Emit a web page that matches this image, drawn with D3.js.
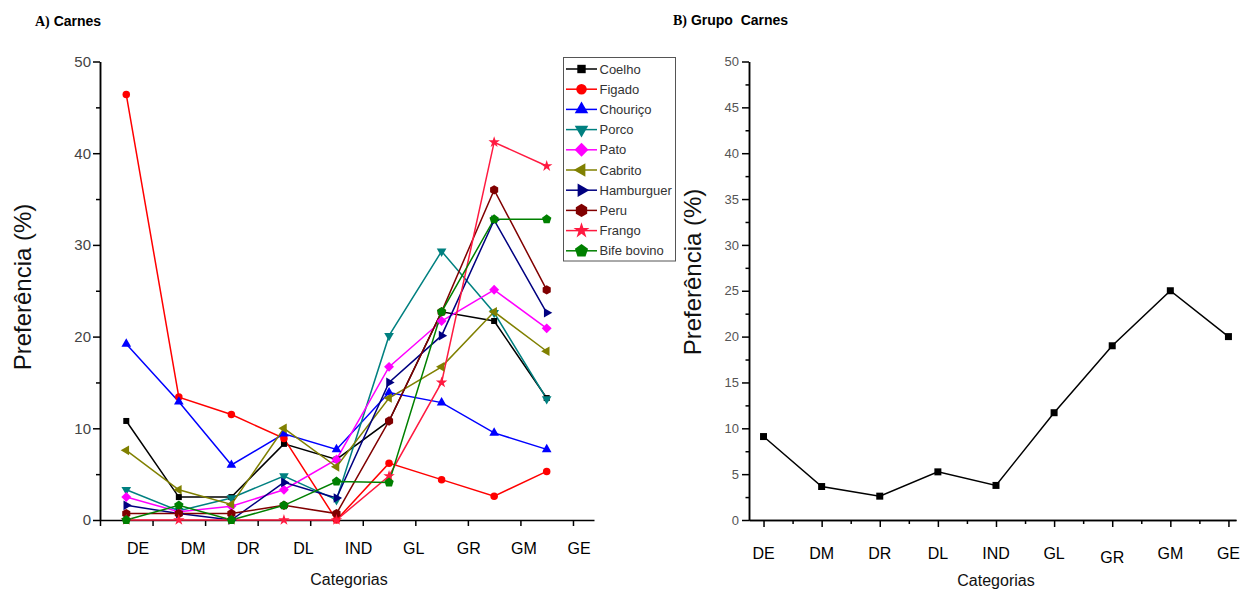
<!DOCTYPE html>
<html>
<head>
<meta charset="utf-8">
<script src="https://cdn.jsdelivr.net/npm/d3@7"></script>
<style>
  body { margin: 0; background: #fff; }
  text { font-family: Arial, "Liberation Sans", sans-serif; }
</style>
</head>
<body>
<script>
// categories and values
var categories = ['DE', 'DM', 'DR', 'DL', 'IND', 'GL', 'GR', 'GM', 'GE'];
var seriesNames = ['Coelho', 'Figado', 'Chouriço', 'Porco', 'Pato', 'Cabrito', 'Hamburguer', 'Peru', 'Frango', 'Bife bovino'];

var coelho     = [10.8, 2.5, 2.5, 8.3, 6.6, 10.8, 22.7, 21.7, 13.3];
var figado     = [46.4, 13.4, 11.5, 8.9, 0.0, 6.2, 4.4, 2.6, 5.3];
var chourico   = [19.2, 12.9, 6.0, 9.4, 7.7, 13.9, 12.8, 9.5, 7.7];
var porco      = [3.3, 1.0, 2.4, 4.8, 2.2, 20.1, 29.3, 22.6, 13.2];
var pato       = [2.5, 0.9, 1.5, 3.3, 6.6, 16.7, 21.7, 25.1, 20.9];
var cabrito    = [7.6, 3.3, 1.7, 10.0, 5.8, 13.3, 16.7, 22.7, 18.4];
var hamburguer = [1.6, 0.7, 0.0, 4.1, 2.4, 15.0, 20.1, 32.7, 22.6];
var peru       = [0.7, 0.7, 0.7, 1.6, 0.7, 10.8, 22.7, 36.0, 25.1];
var frango     = [0.0, 0.0, 0.0, 0.0, 0.0, 4.8, 15.0, 41.2, 38.6];
var bife       = [0.0, 1.6, 0.0, 1.6, 4.2, 4.1, 22.7, 32.8, 32.8];

var grupoCarnes = [9.1, 3.65, 2.6, 5.25, 3.77, 11.7, 19.0, 25.0, 20.0];

var yTicksA = [0, 10, 20, 30, 40, 50];
var yTicksB = [0, 5, 10, 15, 20, 25, 30, 35, 40, 45, 50];

var allSeries = [coelho, figado, chourico, porco, pato, cabrito, hamburguer, peru, frango, bife];

// styles per series
var colors = ['#000000', '#ff0000', '#0000ff', '#008080', '#ff00ff', '#808000', '#000080', '#800000', '#ff1a40', '#008000'];
var shapes = ['square', 'circle', 'up', 'down', 'diamond', 'left', 'right', 'hexagon', 'star', 'pentagon'];

function poly(n, r, start) {
    var p = d3.path();
    for (var k = 0; k < n; k++) {
        var a = start + k * 2 * Math.PI / n;
        if (k == 0) p.moveTo(r * Math.cos(a), r * Math.sin(a));
        else p.lineTo(r * Math.cos(a), r * Math.sin(a));
    }
    p.closePath();
    return p.toString();
}

function marker(shape, s) {
    var deg = Math.PI / 180;
    switch (shape) {
        case 'square':   return poly(4, s * 0.5 * Math.SQRT2, 45 * deg);
        case 'circle':   return d3.symbol(d3.symbolCircle, Math.PI * s * s / 4)();
        case 'up':       return poly(3, s * 0.62, -90 * deg);
        case 'down':     return poly(3, s * 0.62, 90 * deg);
        case 'left':     return poly(3, s * 0.62, 180 * deg);
        case 'right':    return poly(3, s * 0.62, 0);
        case 'diamond':  return poly(4, s * 0.62, -90 * deg);
        case 'hexagon':  return poly(6, s * 0.55, -90 * deg);
        case 'pentagon': return poly(5, s * 0.58, -90 * deg);
        case 'star':     return d3.symbol(d3.symbolStar, s * s * 0.5)();
    }
}

var markerSize = {square: 6, circle: 7.5, up: 9, down: 9, left: 9, right: 9, diamond: 8, hexagon: 8.5, star: 9, pentagon: 8.5};

var svg = d3.select('body').append('svg')
    .attr('width', 1240)
    .attr('height', 591);

// ---------- A) Carnes ----------
var xA = d3.scaleLinear().domain([0, 9.4]).range([100, 594]),
    yA = d3.scaleLinear().domain([0, 50]).range([520, 61.5]),
    labelA = d3.scaleLinear().domain([0, 8]).range([138, 579]);

var title = svg.append('text').attr('x', 35).attr('y', 26)
    .style('font-size', '14px').style('font-weight', 'bold');
title.append('tspan').text('A)').style('font-family', '"Liberation Serif", "Times New Roman", serif');
title.append('tspan').text(' Carnes');

var gA = svg.append('g');

var yAxisA = gA.append('g').attr('transform', 'translate(100,0)')
    .call(d3.axisLeft(yA).tickValues(yTicksA).tickSize(7).tickPadding(2).tickSizeOuter(0));
gA.append('g').attr('transform', 'translate(100,0)')
    .call(d3.axisLeft(yA).tickValues([5, 15, 25, 35, 45]).tickSize(4).tickFormat('').tickSizeOuter(0));
yAxisA.selectAll('text').style('font-size', '15px').attr('fill', '#444').style('font-family', 'Arial, "Liberation Sans", sans-serif');

gA.append('g').attr('transform', 'translate(0,520)')
    .call(d3.axisBottom(xA).tickValues(d3.range(0, 10)).tickSize(6).tickFormat('').tickSizeOuter(0));

gA.selectAll('.domain, .tick line').attr('stroke', '#000').attr('stroke-width', 1.5);

gA.selectAll('.catA').data(categories).enter().append('text')
    .attr('x', function(d, i) { return labelA(i); })
    .attr('y', 554)
    .attr('text-anchor', 'middle')
    .style('font-size', '16px')
    .text(function(d) { return d; });

gA.append('text').attr('x', 349).attr('y', 585).attr('text-anchor', 'middle')
    .style('font-size', '16px').attr('fill', '#111').text('Categorias');

gA.append('text').attr('transform', 'translate(31,287) rotate(-90)')
    .attr('text-anchor', 'middle').style('font-size', '24px').attr('fill', '#111')
    .text('Preferência (%)');

var lineA = d3.line()
    .x(function(d, i) { return xA(i + 0.5); })
    .y(function(d) { return yA(d); });

allSeries.forEach(function(vals, s) {
    gA.append('path').datum(vals)
        .attr('d', lineA)
        .attr('fill', 'none')
        .attr('stroke', colors[s])
        .attr('stroke-width', 1.5);
});
allSeries.forEach(function(vals, s) {
    gA.selectAll('.m' + s).data(vals).enter().append('path')
        .attr('transform', function(d, i) { return 'translate(' + xA(i + 0.5) + ',' + yA(d) + ')'; })
        .attr('d', marker(shapes[s], markerSize[shapes[s]]))
        .attr('fill', colors[s]);
});

// legend
var legend = svg.append('g');
legend.append('rect').attr('x', 563.5).attr('y', 57.5).attr('width', 112).attr('height', 203.5)
    .attr('fill', '#fff').attr('stroke', '#555').attr('stroke-width', 1);
seriesNames.forEach(function(name, s) {
    var ly = 69 + s * 20.2;
    legend.append('line').attr('x1', 566).attr('x2', 597).attr('y1', ly).attr('y2', ly)
        .attr('stroke', colors[s]).attr('stroke-width', 1.5);
    legend.append('path').attr('transform', 'translate(581.5,' + ly + ')')
        .attr('d', marker(shapes[s], markerSize[shapes[s]] * 1.4))
        .attr('fill', colors[s]);
    legend.append('text').attr('x', 599.5).attr('y', ly + 4.5)
        .style('font-size', '13px').attr('fill', '#333').text(name);
});

// ---------- B) Grupo Carnes ----------
var xB = d3.scaleLinear().domain([-0.25, 8.13]).range([749, 1236]),
    yB = d3.scaleLinear().domain([0, 50]).range([520, 61.5]);

var titleB = svg.append('text').attr('x', 673).attr('y', 25)
    .style('font-size', '14px').style('font-weight', 'bold');
titleB.append('tspan').text('B)').style('font-family', '"Liberation Serif", "Times New Roman", serif');
titleB.append('tspan').text(' Grupo  Carnes').style('white-space', 'pre');

var gB = svg.append('g');

var yAxisB = gB.append('g').attr('transform', 'translate(749,0)')
    .call(d3.axisLeft(yB).tickValues(yTicksB).tickSize(7).tickPadding(3).tickSizeOuter(0));
gB.append('g').attr('transform', 'translate(749,0)')
    .call(d3.axisLeft(yB).tickValues(yTicksB.slice(0, -1).map(function(v) { return v + 2.5; }))
        .tickSize(3.5).tickFormat('').tickSizeOuter(0));
yAxisB.selectAll('text').style('font-size', '13px').attr('fill', '#555').style('font-family', 'Arial, "Liberation Sans", sans-serif');

gB.append('g').attr('transform', 'translate(0,520)')
    .call(d3.axisBottom(xB).tickValues(d3.range(0, 9)).tickSize(7).tickFormat('').tickSizeOuter(0));
gB.append('g').attr('transform', 'translate(0,520)')
    .call(d3.axisBottom(xB).tickValues(d3.range(0.5, 8, 1)).tickSize(4).tickFormat('').tickSizeOuter(0));

gB.selectAll('.domain, .tick line').attr('stroke', '#000').attr('stroke-width', 1.5);

gB.selectAll('.catB').data(categories).enter().append('text')
    .attr('x', function(d, i) { return xB(i); })
    .attr('y', function(d) { return d == 'GR' ? 563 : 559; })
    .attr('text-anchor', 'middle')
    .style('font-size', '16px')
    .text(function(d) { return d; });

gB.append('text').attr('x', 996).attr('y', 586).attr('text-anchor', 'middle')
    .style('font-size', '16px').attr('fill', '#111').text('Categorias');

gB.append('text').attr('transform', 'translate(701,272) rotate(-90)')
    .attr('text-anchor', 'middle').style('font-size', '24px').attr('fill', '#111')
    .text('Preferência (%)');

var lineB = d3.line()
    .x(function(d, i) { return xB(i); })
    .y(function(d) { return yB(d); });

gB.append('path').datum(grupoCarnes)
    .attr('d', lineB)
    .attr('fill', 'none')
    .attr('stroke', '#000')
    .attr('stroke-width', 1.5);

gB.selectAll('.pt').data(grupoCarnes).enter().append('path')
    .attr('transform', function(d, i) { return 'translate(' + xB(i) + ',' + yB(d) + ')'; })
    .attr('d', marker('square', 7))
    .attr('fill', '#000');
</script>
</body>
</html>
